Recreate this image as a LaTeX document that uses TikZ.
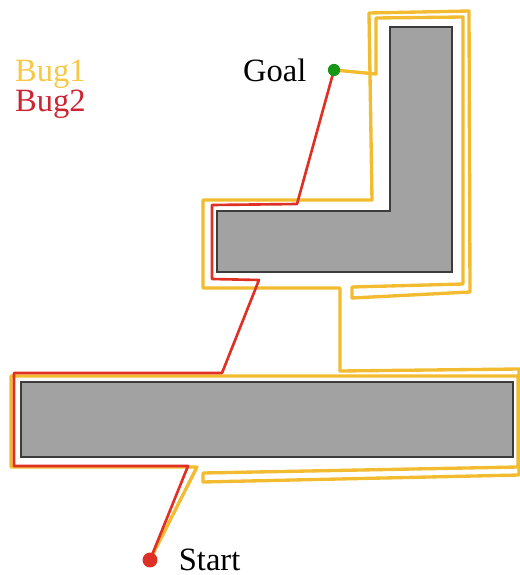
\documentclass[tikz,border=0pt]{standalone}
\usepackage{fontspec}
\setmainfont{Liberation Serif}
\usetikzlibrary{positioning}

\definecolor{bugone}{RGB}{243,188,48}
\definecolor{bugtwo}{RGB}{222,48,36}
\definecolor{bugonetxt}{RGB}{246,200,70}
\definecolor{bugtwotxt}{RGB}{204,36,48}
\definecolor{obsfill}{RGB}{162,162,162}
\definecolor{obsedge}{RGB}{60,60,60}
\definecolor{goalgreen}{RGB}{24,150,24}

\begin{document}
\begin{tikzpicture}[x=0.02cm,y=-0.02cm,node distance=3.5mm,
    obstacle/.style={fill=obsfill,draw=obsedge,line width=1pt},
    pathone/.style={draw=bugone,line width=1.9pt,line join=round},
    pathtwo/.style={draw=bugtwo,line width=1.5pt,line join=round},
    dot/.style={circle,inner sep=0pt,minimum size=#1},
    txt/.style={font=\fontsize{18.5}{20}\selectfont,inner sep=1pt}]

    \useasboundingbox (0,0) rectangle (520,575);

    \draw[obstacle] (390,27) -- (452,27) -- (452,272) -- (217,272) -- (217,211) -- (390,211) -- cycle;
    \draw[obstacle] (21,382) rectangle (513,457);

    \coordinate (start) at (150,560);
    \coordinate (goal) at (334,70);
    \coordinate (hitone) at (197,467);
    \coordinate (leaveone) at (340,371);
    \coordinate (hittwo) at (340,288);
    \coordinate (hitthree) at (188,466);
    \coordinate (leavetwo) at (222,373);
    \coordinate (hitfour) at (259,280);
    \coordinate (leavefour) at (297,204);

    % Bug1
    \draw[pathone] (start) -- (hitone) -- (11,467) -- (11,376) -- (518,376) -- (518,467)
        -- (203,473) -- (203,482) -- (519,475) -- (519,369) -- (leaveone)
        -- (hittwo) -- (203,288) -- (203,200) -- (372,200) -- (369,13) -- (469,11)
        -- (470,292) -- (352,298) -- (352,287) -- (463,284) -- (463,17) -- (376,18)
        -- (376,74) -- (goal);

    % Bug2
    \draw[pathtwo] (start) -- (hitthree) -- (14,466) -- (14,373) -- (leavetwo)
        -- (hitfour) -- (212,279) -- (212,205) -- (leavefour) -- (goal);

    \node[dot=8.5pt,fill=bugtwo] (startdot) at (start) {};
    \node[dot=7pt,fill=goalgreen] (goaldot) at (goal) {};

    \node[txt] (goaltxt) [left=3.8mm of goaldot] {Goal};
    \node[txt] (starttxt) [right=3.8mm of startdot] {Start};

    \node[txt,text=bugonetxt,anchor=base west] (bugonelbl) at (13,81) {Bug1};
    \node[txt,text=bugtwotxt,anchor=base west] (bugtwolbl) at (13,111) {Bug2};

\end{tikzpicture}
\end{document}
